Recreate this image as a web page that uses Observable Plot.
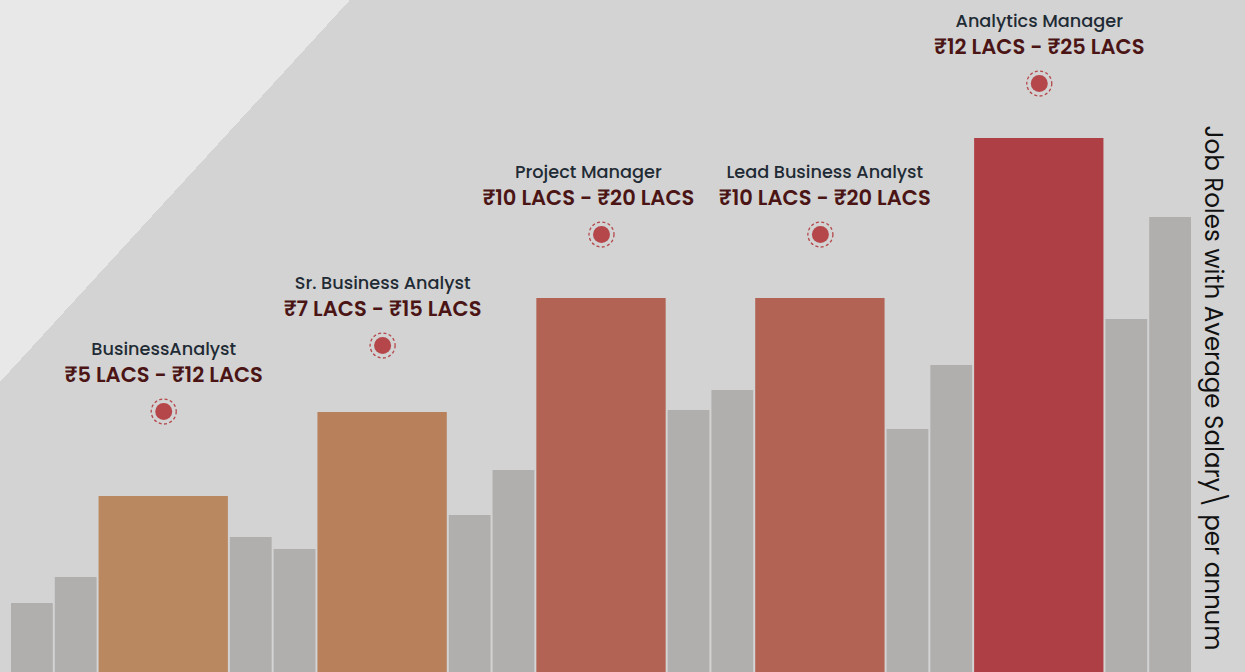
<!DOCTYPE html>
<html>
<head>
<meta charset="utf-8">
<script src="https://cdn.jsdelivr.net/npm/d3@7"></script>
<script src="https://cdn.jsdelivr.net/npm/@observablehq/plot@0.6"></script>
<style>
  html, body { margin: 0; padding: 0; }
  body { width: 1245px; height: 672px; overflow: hidden; }
  #chart {
    width: 1245px; height: 672px;
    background: linear-gradient(132.5deg, #e8e8e8 258px, #d3d3d3 258px);
  }
  #chart svg { display: block; }
</style>
</head>
<body>
<div id="chart"></div>
<script>
// ---- data ----
const barValues = [69, 95, 176, 135, 123, 260, 157, 202, 374, 262, 282, 374, 243, 307, 534, 353, 455];
const barRoles  = [null, null, "BusinessAnalyst", null, null, "Sr. Business Analyst", null, null,
                   "Project Manager", null, null, "Lead Business Analyst", null, null,
                   "Analytics Manager", null, null];
const roleNames = ["BusinessAnalyst", "Sr. Business Analyst", "Project Manager", "Lead Business Analyst", "Analytics Manager"];
const salaryRanges = ["₹5 LACS - ₹12 LACS", "₹7 LACS - ₹15 LACS", "₹10 LACS - ₹20 LACS", "₹10 LACS - ₹20 LACS", "₹12 LACS - ₹25 LACS"];
const markerLevels = [261, 327, 438, 438, 589];
const sideTitle = "Job Roles with Average Salary\\ per annum";

// ---- styles ----
const roleColors = ["#b98860", "#b9815b", "#b36353", "#b36353", "#ae4045"];
const fillerColor = "#b0afad";
const labelNudge = [0, 0, -0.3, 0.1, 0]; // text offset in bar units
const font = "Poppins, 'Open Sans', 'Noto Sans', sans-serif";

// build bar table: role bars span 3 units, others 1
let pos = 0;
const bars = barValues.map((v, i) => {
  const w = barRoles[i] ? 3 : 1;
  const d = {x1: pos, x2: pos + w, value: v, group: barRoles[i] ?? "other"};
  pos += w;
  return d;
});
const labels = roleNames.map((name, i) => {
  const b = bars.find(d => d.group === name);
  const cx = (b.x1 + b.x2) / 2;
  return {name, salary: salaryRanges[i], level: markerLevels[i], cx, tx: cx + labelNudge[i]};
});

const chart = Plot.plot({
  width: 1245,
  height: 672,
  margin: 0,
  style: {background: "transparent", fontFamily: font},
  x: {axis: null, domain: [0, pos], range: [10, 1192]},
  y: {axis: null, domain: [0, 672], range: [672, 0]},
  color: {domain: [...roleNames, "other"], range: [...roleColors, fillerColor]},
  marks: [
    Plot.rectY(bars, {x1: "x1", x2: "x2", y: "value", fill: "group", insetLeft: 1, insetRight: 1}),
    Plot.dot(labels, {x: "cx", y: "level", r: 12.5, fill: "none", stroke: "#b5474b", strokeWidth: 1.3, strokeDasharray: "3,2.4"}),
    Plot.dot(labels, {x: "cx", y: "level", r: 8.5, fill: "#b5474b"}),
    Plot.text(labels, {x: "tx", y: "level", text: "salary", dy: -36, fontSize: 21, fontWeight: 600, fill: "#4b1515", fontFamily: font}),
    Plot.text(labels, {x: "tx", y: "level", text: "name", dy: -62, fontSize: 17.7, fontWeight: 500, fill: "#1f2b35", fontFamily: font}),
    Plot.text([sideTitle], {frameAnchor: "top-right", text: d => d, rotate: 90, textAnchor: "start", dx: -23, dy: 125, fontSize: 24.5, fontWeight: 400, fill: "#111", fontFamily: font})
  ]
});
document.getElementById("chart").appendChild(chart);
</script>
</body>
</html>
